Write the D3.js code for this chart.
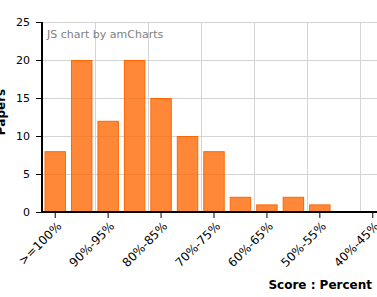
<!DOCTYPE html>
<html>
<head>
<meta charset="utf-8">
<script src="https://cdnjs.cloudflare.com/ajax/libs/d3/7.8.5/d3.min.js"></script>
<style>
  html, body { margin: 0; padding: 0; background: #fff; overflow: hidden; }
  svg { display: block; font-family: Verdana, "DejaVu Sans", sans-serif; }
</style>
</head>
<body>
<div id="chart"></div>
<script>
    // Data
    var categories = ['>=100%', '95%-100%', '90%-95%', '85%-90%', '80%-85%', '75%-80%',
        '70%-75%', '65%-70%', '60%-65%', '55%-60%', '50%-55%', '45%-50%', '40%-45%'];
    var papers = [8, 20, 12, 20, 15, 10, 8, 2, 1, 2, 1, 0, 0];
    var yTicks = [0, 5, 10, 15, 20, 25];

    var width = 377, height = 297;
    var plotLeft = 42, plotRight = 386, plotTop = 22, plotBottom = 212;

    var svg = d3.select('#chart')
        .append('svg')
        .attr('width', width)
        .attr('height', height);

    var x = d3.scaleBand()
        .domain(categories)
        .range([plotLeft, plotRight])
        .paddingInner(0.19)
        .paddingOuter(0.095);

    var y = d3.scaleLinear()
        .domain([0, 25])
        .range([plotBottom, plotTop]);

    // horizontal grid
    svg.append('g')
        .selectAll('line')
        .data(yTicks.slice(1))
        .enter()
        .append('line')
        .attr('x1', plotLeft)
        .attr('x2', width)
        .attr('y1', function (d) { return Math.round(y(d)) + 0.5; })
        .attr('y2', function (d) { return Math.round(y(d)) + 0.5; })
        .attr('stroke', '#d4d4d4')
        .attr('stroke-width', 1);

    // vertical grid, every second category boundary
    svg.append('g')
        .selectAll('line')
        .data(categories.filter(function (c, i) { return i > 0 && i % 2 === 0; }))
        .enter()
        .append('line')
        .attr('x1', function (d) { return Math.round(x(d) - x.step() * x.paddingInner() / 2) + 0.5; })
        .attr('x2', function (d) { return Math.round(x(d) - x.step() * x.paddingInner() / 2) + 0.5; })
        .attr('y1', plotTop)
        .attr('y2', plotBottom)
        .attr('stroke', '#d4d4d4')
        .attr('stroke-width', 1);

    // credit
    svg.append('text')
        .attr('x', 47)
        .attr('y', 38)
        .attr('font-size', 11)
        .attr('fill', '#808080')
        .text('JS chart by amCharts');

    // bars
    svg.append('g')
        .selectAll('rect')
        .data(papers)
        .enter()
        .append('rect')
        .attr('x', function (d, i) { return x(categories[i]) + 0.5; })
        .attr('y', function (d) { return y(d) + 0.5; })
        .attr('width', x.bandwidth() - 1)
        .attr('height', function (d) { return Math.max(0, y(0) - y(d) - 1); })
        .attr('fill', '#ff6600')
        .attr('fill-opacity', 0.78)
        .attr('stroke', '#ff6600')
        .attr('stroke-width', 1)
        .style('display', function (d) { return d > 0 ? null : 'none'; });

    // y axis
    var yAxis = d3.axisLeft(y).tickValues(yTicks).tickSize(6).tickPadding(6);
    var gy = svg.append('g')
        .attr('transform', 'translate(' + plotLeft + ',0)')
        .call(yAxis);
    gy.select('.domain').attr('stroke', '#000').attr('stroke-width', 2)
        .attr('d', 'M0,' + plotTop + 'V' + (plotBottom + 1));
    gy.selectAll('.tick line').attr('stroke', '#000');
    gy.selectAll('.tick text')
        .attr('font-size', 11)
        .attr('font-family', 'Verdana, "DejaVu Sans", sans-serif')
        .attr('fill', '#000');

    // x axis
    var xAxis = d3.axisBottom(x)
        .tickValues(categories.filter(function (c, i) { return i % 2 === 0; }))
        .tickSize(6)
        .tickPadding(4);
    var gx = svg.append('g')
        .attr('transform', 'translate(0,' + plotBottom + ')')
        .call(xAxis);
    gx.select('.domain').attr('stroke', '#000').attr('stroke-width', 2)
        .attr('d', 'M' + (plotLeft - 1) + ',0H' + width);
    gx.selectAll('.tick line').attr('stroke', '#000');
    gx.selectAll('.tick text')
        .attr('font-size', 12)
        .attr('font-family', 'Verdana, "DejaVu Sans", sans-serif')
        .attr('fill', '#000')
        .attr('text-anchor', 'end')
        .attr('dy', '0.35em')
        .attr('transform', 'translate(4,12) rotate(-45)')
        .attr('x', 0)
        .attr('y', 0);

    // axis titles
    svg.append('text')
        .attr('x', 372)
        .attr('y', 289)
        .attr('text-anchor', 'end')
        .attr('font-size', 12)
        .attr('font-weight', 'bold')
        .attr('fill', '#000')
        .text('Score : Percent');

    svg.append('text')
        .attr('transform', 'translate(5,112) rotate(-90)')
        .attr('text-anchor', 'middle')
        .attr('font-size', 12)
        .attr('font-weight', 'bold')
        .attr('fill', '#000')
        .text('Papers');
</script>
</body>
</html>
